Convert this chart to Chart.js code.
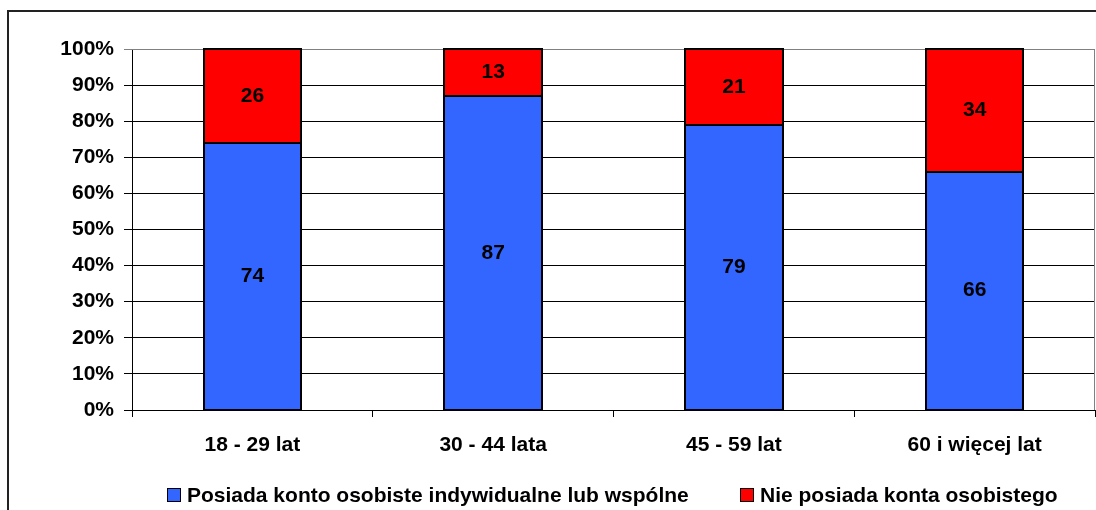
<!DOCTYPE html>
<html><head><meta charset="utf-8">
<script src="https://cdn.jsdelivr.net/npm/chart.js@4.4.0/dist/chart.umd.min.js"></script>
<style>
html,body{margin:0;padding:0;background:#fff;}
#wrap{position:relative;width:1096px;height:510px;overflow:hidden;}
#frame{position:absolute;left:7px;top:10px;width:1200px;height:600px;border-left:2px solid #222;border-top:2px solid #222;}
canvas{position:absolute;left:0;top:0;}
.leg{position:absolute;top:483px;font:bold 21px "Liberation Sans",Arial,sans-serif;color:#000;white-space:nowrap;}
.leg i{display:inline-block;width:12px;height:12px;border:1.5px solid #000;margin-right:6px;vertical-align:0px;}
</style></head><body>
<div id="wrap">
<div id="frame"></div>
<canvas id="c" width="1096" height="510"></canvas>
<div class="leg" style="left:167px"><i style="background:#3366FF"></i>Posiada konto osobiste indywidualne lub wspólne</div>
<div class="leg" style="left:740px"><i style="background:#FF0000"></i>Nie posiada konta osobistego</div>
</div>
<script>
const categories = ["18 - 29 lat", "30 - 44 lata", "45 - 59 lat", "60 i więcej lat"];
const seriesHas = [74, 87, 79, 66];
const seriesHasNot = [26, 13, 21, 34];
const seriesNames = ["Posiada konto osobiste indywidualne lub wspólne", "Nie posiada konta osobistego"];
const yTicks = [0,10,20,30,40,50,60,70,80,90,100];

const FONT = {family:'"Liberation Sans", Arial, sans-serif', size:21, weight:'bold'};

const labelPlugin = {
  id:'segLabels',
  afterDatasetsDraw(chart){
    const ctx = chart.ctx;
    ctx.save();
    // outlines of each segment
    ctx.strokeStyle = '#000';
    ctx.lineWidth = 2;
    chart.data.datasets.forEach((ds, di) => {
      const meta = chart.getDatasetMeta(di);
      meta.data.forEach((bar) => {
        const p = bar.getProps(['x','y','base','width'], true);
        const l = Math.round(p.x - p.width/2), r = Math.round(p.x + p.width/2);
        const t = Math.round(Math.min(p.y, p.base)), b = Math.round(Math.max(p.y, p.base));
        ctx.strokeRect(l, t, r - l, b - t);
      });
    });
    ctx.font = 'bold 21px "Liberation Sans", Arial, sans-serif';
    ctx.fillStyle = '#000';
    ctx.textAlign = 'center';
    ctx.textBaseline = 'middle';
    chart.data.datasets.forEach((ds, di) => {
      const meta = chart.getDatasetMeta(di);
      meta.data.forEach((bar, i) => {
        const p = bar.getProps(['x','y','base'], true);
        ctx.fillText(String(ds.data[i]), p.x, (p.y + p.base)/2);
      });
    });
    ctx.restore();
  }
};
const borderPlugin = {
  id:'plotBorder',
  beforeDatasetsDraw(chart){
    const a = chart.chartArea, ctx = chart.ctx;
    ctx.save();
    ctx.strokeStyle = '#808080';
    ctx.lineWidth = 1;
    ctx.beginPath();
    ctx.moveTo(a.left, a.top + 0.5);
    ctx.lineTo(a.right - 0.5, a.top + 0.5);
    ctx.lineTo(a.right - 0.5, a.bottom);
    ctx.stroke();
    ctx.restore();
  }
};

new Chart(document.getElementById('c'), {
  type:'bar',
  data:{
    labels: categories,
    datasets:[
      {label: seriesNames[0], data: seriesHas, backgroundColor:'#3366FF', borderWidth:0},
      {label: seriesNames[1], data: seriesHasNot, backgroundColor:'#FF0000', borderWidth:0}
    ]
  },
  options:{
    responsive:false,
    animation:false,
    devicePixelRatio:1,
    layout:{padding:{top:49, right:1, left:0, bottom:0}},
    datasets:{bar:{categoryPercentage:1, barPercentage:0.405}},
    plugins:{legend:{display:false}, tooltip:{enabled:false}},
    scales:{
      x:{
        stacked:true,
        afterFit(s){ s.height = 100; },
        grid:{offset:true, drawOnChartArea:false, color:'#000', tickLength:7},
        border:{color:'#000', width:1},
        ticks:{color:'#000', font:FONT, padding:16, maxRotation:0}
      },
      y:{
        stacked:true,
        min:0, max:100,
        afterFit(s){ s.width = 132; },
        afterBuildTicks(s){ s.ticks = yTicks.map(v => ({value:v})); },
        grid:{color:(c)=> c.tick && c.tick.value===100 ? '#808080' : '#000', tickLength:8, drawTicks:true},
        border:{color:'#000', width:1},
        ticks:{color:'#000', font:FONT, padding:10, callback:(v)=> v + '%'}
      }
    }
  },
  plugins:[labelPlugin, borderPlugin]
});
</script>
</body></html>
